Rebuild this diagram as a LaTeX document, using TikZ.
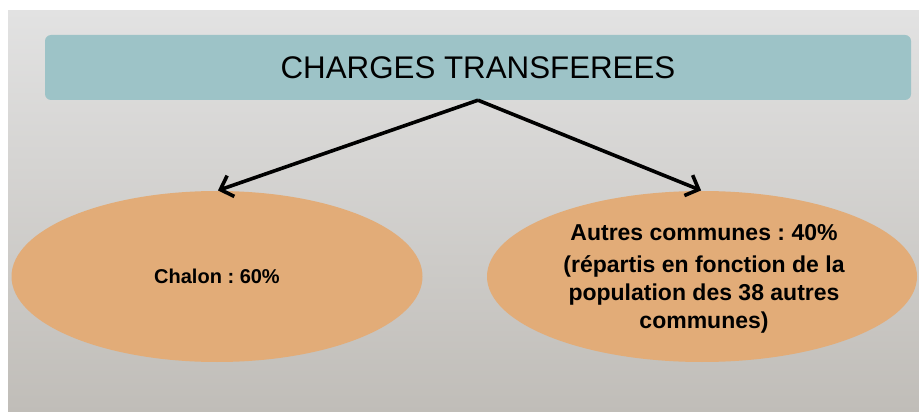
\documentclass[tikz,border=0pt]{standalone}
\usepackage{fontspec}
\setmainfont{Liberation Sans}
\usetikzlibrary{shapes.geometric,arrows.meta}
\definecolor{bgtop}{HTML}{E2E2E2}
\definecolor{bgbot}{HTML}{C0BDB8}
\definecolor{banner}{HTML}{9DC3C7}
\definecolor{ovalfill}{HTML}{E2AC78}
\tikzset{
  bannerbox/.style={rectangle, rounded corners=6pt, fill=banner, minimum width=866pt, minimum height=65pt, inner sep=0pt, font=\fontsize{31.3}{36}\selectfont},
  oval/.style={ellipse, fill=ovalfill, inner sep=0pt, align=center},
  link/.style={line width=3.6pt, -{Straight Barb[length=11pt,width=22pt,line width=3.6pt]}, black, shorten >=1pt}
}
\frenchspacing
\begin{document}
\begin{tikzpicture}[x=1pt,y=-1pt]
\useasboundingbox (0,0) rectangle (919,412);
\fill[white] (0,0) rectangle (919,412);
\shade[top color=bgtop, bottom color=bgbot] (8,11) rectangle (919,412);
\node[bannerbox] (top) at (478,67.5) {CHARGES TRANSFEREES};
\node[oval, minimum width=411pt, minimum height=171pt, font=\bfseries\fontsize{20}{24}\selectfont] (left) at (217,276.5) {Chalon : 60\%};
\node[oval, minimum width=430pt, minimum height=171pt] (right) at (702,276.5) {};
\node[align=center, font=\bfseries\fontsize{23}{28}\selectfont] (rtext) at (704,279) {Autres communes : 40\%\\[4pt](répartis en fonction de la\\population des 38 autres\\communes)};
\draw[link] (top.south) -- (left.north);
\draw[link] (top.south) -- (right.north);
\end{tikzpicture}
\end{document}
